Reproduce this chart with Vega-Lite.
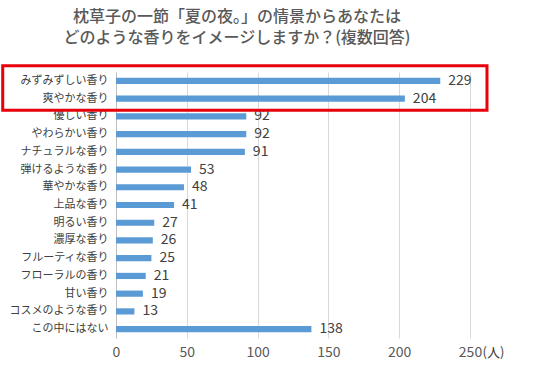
{
  "$schema": "https://vega.github.io/schema/vega-lite/v6.json",
  "width": 354,
  "height": 266,
  "autosize": {"type": "none"},
  "padding": {"left": 116, "top": 72, "right": 66, "bottom": 34},
  "background": "white",
  "config": {"view": {"stroke": null}, "font": "Noto Sans CJK JP"},
  "title": {
    "text": ["枕草子の一節「夏の夜。」の情景からあなたは", "どのような香りをイメージしますか？(複数回答)"],
    "fontSize": 16,
    "fontWeight": 500,
    "color": "#595959",
    "anchor": "middle",
    "dx": -56,
    "offset": 18,
    "lineHeight": 21
  },
  "datasets": {
    "scent": [
      {"cat": "みずみずしい香り", "n": 229},
      {"cat": "爽やかな香り", "n": 204},
      {"cat": "優しい香り", "n": 92},
      {"cat": "やわらかい香り", "n": 92},
      {"cat": "ナチュラルな香り", "n": 91},
      {"cat": "弾けるような香り", "n": 53},
      {"cat": "華やかな香り", "n": 48},
      {"cat": "上品な香り", "n": 41},
      {"cat": "明るい香り", "n": 27},
      {"cat": "濃厚な香り", "n": 26},
      {"cat": "フルーティな香り", "n": 25},
      {"cat": "フローラルの香り", "n": 21},
      {"cat": "甘い香り", "n": 19},
      {"cat": "コスメのような香り", "n": 13},
      {"cat": "この中にはない", "n": 138}
    ],
    "box": [{"x": -80, "x2": 262, "y": -0.35, "y2": 2.15}]
  },
  "layer": [
    {
      "data": {"name": "scent"},
      "encoding": {
        "y": {
          "field": "cat", "type": "nominal", "sort": null,
          "scale": {"paddingInner": 0.65, "paddingOuter": 0.325},
          "axis": {"title": null, "domain": true, "domainColor": "#bfbfbf", "ticks": false, "labelFontSize": 11, "labelColor": "#404040", "labelPadding": 8, "grid": false}
        },
        "x": {
          "field": "n", "type": "quantitative",
          "scale": {"domain": [0, 250], "nice": false},
          "axis": {"values": [0, 50, 100, 150, 200, 250], "labelFlush": false, "grid": true, "gridColor": "#d9d9d9", "domain": false, "ticks": false, "labelFontSize": 14, "labelColor": "#595959", "labelPadding": 7, "title": "(人)", "titleX": 366, "titleY": 14, "titleAlign": "left", "titleBaseline": "middle", "titleFontSize": 13, "titleFontWeight": "normal", "titleColor": "#404040"}
        }
      },
      "layer": [
        {"mark": {"type": "bar", "color": "#5b9bd5"}},
        {
          "mark": {"type": "text", "align": "left", "baseline": "middle", "dx": 8, "fontSize": 14, "color": "#404040"},
          "encoding": {"text": {"field": "n"}}
        }
      ]
    },
    {
      "data": {"name": "box"},
      "mark": {"type": "rect", "fill": null, "stroke": "#e8000b", "strokeWidth": 3},
      "encoding": {
        "x": {"field": "x", "type": "quantitative"},
        "x2": {"field": "x2"},
        "y": {"field": "y", "type": "quantitative", "scale": {"domain": [0, 15], "reverse": true, "nice": false, "zero": false}, "axis": null},
        "y2": {"field": "y2"}
      }
    }
  ],
  "resolve": {"scale": {"y": "independent"}}
}
